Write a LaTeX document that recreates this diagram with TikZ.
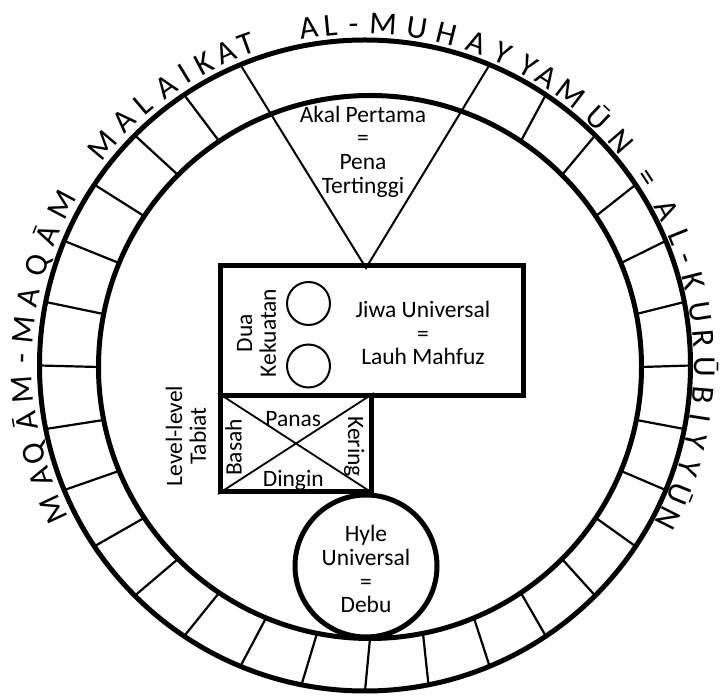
\documentclass[tikz,border=0pt]{standalone}
\usepackage{fontspec}
\setmainfont{Carlito}
\usetikzlibrary{calc}
\begin{document}
\begin{tikzpicture}[x=1pt,y=1pt,
  thickline/.style={line width=5pt},
  spoke/.style={line width=2.2pt},
  boxframe/.style={draw, line width=5pt, rectangle, inner sep=0pt, anchor=south west},
  smallcirc/.style={draw, circle, line width=2pt, minimum size=43pt, inner sep=0pt},
  lbl/.style={inner sep=0pt, font=\fontsize{23.5}{23.8}\selectfont, align=center},
  ringletter/.style={inner sep=0pt, anchor=base, font=\fontsize{32}{32}\selectfont}]
\useasboundingbox (0,0) rectangle (728,696);
\coordinate (O) at (365,330.5);
\coordinate (I) at (370,329);
\coordinate (T) at (363,331);
% ring
\draw[thickline] (O) circle[radius=325.5];
\draw[thickline] (I) circle[radius=271.5];
\foreach \k in {0,...,5,11,12,...,31} {
  \draw[spoke] ($(I)+({\k*11.25}:271.5)$) -- ($(O)+({\k*11.25}:325.5)$);
}
% triangle
\coordinate (tl) at ($(O)+(112.5:325.5)$);
\coordinate (tr) at ($(O)+(67.5:325.5)$);
\coordinate (apex) at (366,428);
\draw[line width=2pt] (tl) -- (apex) -- (tr);
% boxes
\node[boxframe, minimum width=303pt, minimum height=130pt] (jiwabox) at (218,298) {};
\node[boxframe, minimum width=151pt, minimum height=96pt] (tabiatbox) at (218,202) {};
\draw[line width=1.8pt] (tabiatbox.north west) -- (tabiatbox.south east)
                        (tabiatbox.south west) -- (tabiatbox.north east);
\node[smallcirc] (kuat1) at (308.5,392.5) {};
\node[smallcirc] (kuat2) at (308.5,330) {};
\node[draw, circle, line width=5pt, minimum size=142pt, inner sep=0pt] (hylecirc) at (366,130) {};
% texts (base = baseline of last line)
\node[lbl, anchor=base] (akal) at (363,502.5) {Akal Pertama\\=\\Pena\\Tertinggi};
\node[lbl, anchor=base] (jiwa) at (423,331) {Jiwa Universal\\=\\Lauh Mahfuz};
\node[lbl, anchor=base] (hyle) at (366,83) {Hyle\\Universal\\=\\Debu};
\node[lbl, rotate=90] (dua) at (256.5,363) {Dua\\Kekuatan};
\node[lbl, rotate=90] (level) at (186,260) {Level-level\\Tabiat};
\node[lbl, anchor=base] (panas) at (293.3,269.3) {Panas};
\node[lbl, anchor=base] (dingin) at (293.3,209.3) {Dingin};
\node[lbl, anchor=base, rotate=90] (basah) at (241.7,248.5) {Basah};
\node[lbl, anchor=base, rotate=-90] (kering) at (348,249.3) {Kering};
% ring text
\foreach \a/\c [count=\i] in {205.0/M, 199.1/A, 195.0/Q, 189.5/Ā, 184.2/M, 178.9/-, 174.1/M, 168.5/A, 163.0/Q, 157.6/Ā, 152.0/M, 139.9/M, 134.4/A, 130.2/L, 125.3/A, 121.5/I, 117.8/K, 113.7/A, 110.0/T, 99.2/A, 95.5/L, 91.6/-, 86.6/M, 80.9/U, 75.8/H, 70.5/A, 65.8/Y, 61.0/Y, 57.5/A, 52.6/M, 46.4/Ū, 41.0/N, 33.4/=, 27.0/A, 22.0/L, 18.3/-, 14.2/K, 9.0/U, 4.5/R, -0.3/Ū, -5.1/B, -8.9/I, -12.9/Y, -17.5/Y, -22.1/Ū, -26.7/N} {
  \node[ringletter, rotate=\a-90] (ring\i) at ($(T)+(\a:331)$) {\c};
}
\end{tikzpicture}
\end{document}
